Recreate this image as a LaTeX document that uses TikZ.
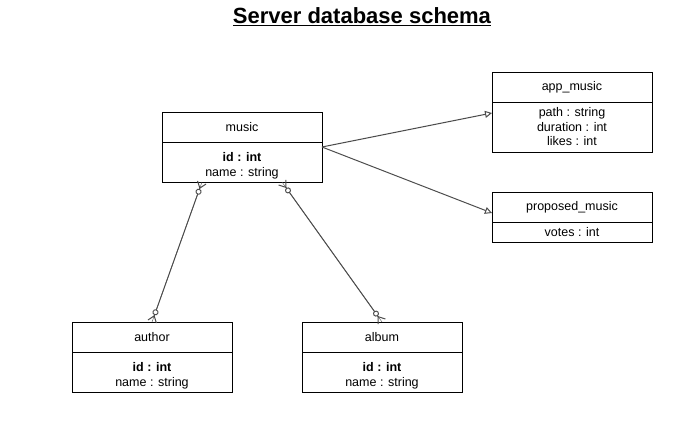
\documentclass[tikz,border=0pt]{standalone}
\usepackage{fontspec}
\setmainfont{Liberation Sans}
\usetikzlibrary{arrows.meta,positioning,calc}

\definecolor{linkgray}{HTML}{4D4D4D}
\newcommand\keygap{\rule{0pt}{17pt}}

\tikzset{
  entity/.style={draw, line width=0.9pt, minimum width=160pt, minimum height=30pt,
    inner sep=0pt, outer sep=0pt, align=center, font=\fontsize{12.5}{14.5}\selectfont},
  relation/.style={draw=linkgray, line width=1pt,
    preaction={draw=linkgray, arrows=-},
    {Straight Barb[reversed,length=6pt,width=9pt]Circle[open,fill=white,length=6pt]}-{Circle[open,fill=white,length=6pt]Straight Barb[reversed,length=6pt,width=9pt]}},
  inherits/.style={draw=linkgray, line width=1pt, -{Triangle[open,length=7pt,width=7pt]}}
}

\begin{document}
\begin{tikzpicture}[x=1pt, y=-1pt]
  \useasboundingbox (0,0) rectangle (699,434);

  \node[font=\fontsize{22}{26}\selectfont\bfseries] (title) at (362,17) {\underline{Server database schema}};

  % tables
  \node[entity] (music) at (242,127) {music};
  \node[entity, minimum height=40pt] (music fields) [below=0pt of music]
    {\keygap\textbf{id : int}\\[1pt] name : string};

  \node[entity] (app music) at (572,87) {app\_music};
  \node[entity, minimum height=50pt] (app music fields) [below=0pt of app music]
    {path : string\\ duration : int\\ likes : int};

  \node[entity] (proposed music) at (572,207) {proposed\_music};
  \node[entity, minimum height=20pt] (proposed music fields) [below=0pt of proposed music]
    {votes : int};

  \node[entity] (author) at (152,337) {author};
  \node[entity, minimum height=40pt] (author fields) [below=0pt of author]
    {\keygap\textbf{id : int}\\[1pt] name : string};

  \node[entity] (album) at (382,337) {album};
  \node[entity, minimum height=40pt] (album fields) [below=0pt of album]
    {\keygap\textbf{id : int}\\[1pt] name : string};

  % links
  \draw[inherits] ([yshift=-5pt]music fields.north east) -- ([yshift=-11pt]app music fields.north west);
  \draw[inherits] ([yshift=-5pt]music fields.north east) -- ([yshift=-6pt]proposed music.west);
  \draw[relation] ($(music fields.south west)!0.25!(music fields.south east)$) -- (author.north);
  \draw[relation] ($(music fields.south west)!0.75!(music fields.south east)$) -- (album.north);
\end{tikzpicture}
\end{document}
